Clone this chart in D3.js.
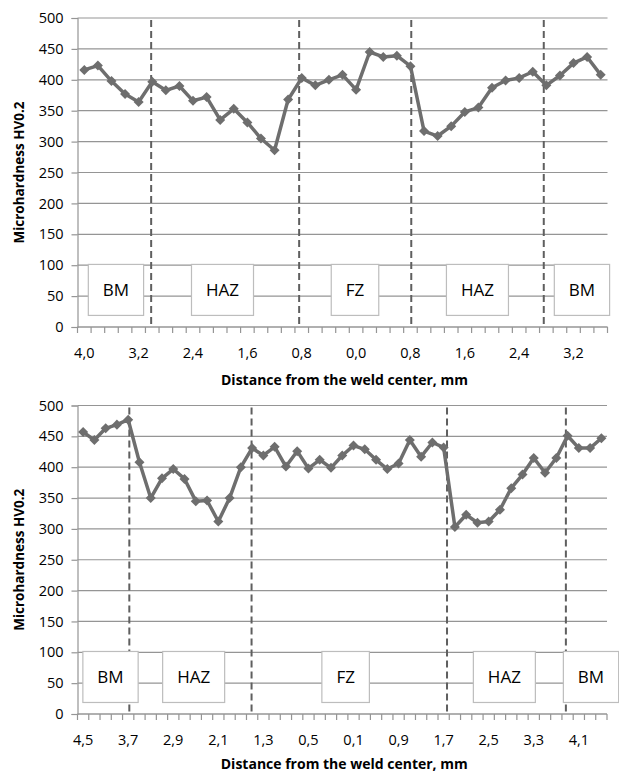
<!DOCTYPE html>
<html>
<head>
<meta charset="utf-8">
<style>
  body { margin: 0; background: #fff; }
  svg text { font-family: "Open Sans", Lato, sans-serif; fill: #000; }
</style>
<script src="https://d3js.org/d3.v7.min.js"></script>
</head>
<body>
<svg width="619" height="774"></svg>
<script>
// ---- data: top chart
var topValues = [416, 423, 398, 377, 364, 397, 383, 390, 366, 372, 335, 353, 331, 305, 286, 368,
  403, 391, 400, 408, 384, 445, 437, 439, 422, 317, 309, 325, 348, 355, 387, 399, 403, 413,
  391, 407, 427, 437, 408];
var topTicks = ["4,0", "3,2", "2,4", "1,6", "0,8", "0,0", "0,8", "1,6", "2,4", "3,2"];
var topBorders = [4.92, 15.81, 24.06, 33.81];           // zone borders, in category units
var topZones = ["BM", "HAZ", "FZ", "HAZ", "BM"];
var topZoneAt = [2.33, 10.17, 19.92, 28.93, 36.62];

// ---- data: bottom chart
var botValues = [457, 444, 463, 469, 477, 408, 350, 382, 397, 381, 345, 346, 312, 350, 400, 431,
  419, 433, 401, 426, 398, 412, 399, 419, 435, 429, 412, 397, 406, 444, 417, 440, 432, 303,
  323, 310, 312, 331, 366, 388, 415, 391, 415, 451, 431, 431, 447];
var botTicks = ["4,5", "3,7", "2,9", "2,1", "1,3", "0,5", "0,1", "0,9", "1,7", "2,5", "3,3", "4,1"];
var botBorders = [4.1, 14.95, 32.3, 42.85];
var botZones = ["BM", "HAZ", "FZ", "HAZ", "BM"];
var botZoneAt = [2.43, 9.81, 23.3, 37.39, 45.08];

var yTicks = [0, 50, 100, 150, 200, 250, 300, 350, 400, 450, 500];

var svg = d3.select("svg");

function drawChart(cfg) {
  var n = cfg.values.length;
  var x = d3.scaleLinear().domain([-0.5, n - 0.5]).range([cfg.left, cfg.right]);
  var y = d3.scaleLinear().domain([0, 500]).range([cfg.bottom, cfg.top]);
  var g = svg.append("g");

  // gridlines
  g.selectAll(".grid").data(yTicks).enter().append("line")
    .attr("x1", cfg.left).attr("x2", cfg.right)
    .attr("y1", function (d) { return y(d); }).attr("y2", function (d) { return y(d); })
    .attr("stroke", "#959595").attr("stroke-width", 1.2);

  // y axis
  var yAxis = g.append("g").attr("transform", "translate(" + cfg.left + ",0)")
    .call(d3.axisLeft(y).tickValues(yTicks).tickSize(6).tickPadding(8));
  yAxis.select(".domain").attr("stroke", "#959595").attr("stroke-width", 1.2);
  yAxis.selectAll(".tick line").attr("stroke", "#959595").attr("stroke-width", 1.2);
  yAxis.selectAll("text").attr("font-size", 14.5).attr("font-family", "'Open Sans', sans-serif").attr("fill", "#000");

  // x axis: ticks between categories, labels every 4th
  var xAxis = g.append("g").attr("transform", "translate(0," + cfg.bottom + ")");
  xAxis.append("line").attr("x1", cfg.left).attr("x2", cfg.right)
    .attr("stroke", "#959595").attr("stroke-width", 1.2);
  xAxis.selectAll(".xt").data(d3.range(n + 1)).enter().append("line")
    .attr("x1", function (d) { return x(d - 0.5); }).attr("x2", function (d) { return x(d - 0.5); })
    .attr("y1", 0).attr("y2", 6)
    .attr("stroke", "#959595").attr("stroke-width", 1.2);
  xAxis.selectAll(".xl").data(cfg.ticks).enter().append("text")
    .attr("x", function (d, i) { return x(i * 4); })
    .attr("y", 31)
    .attr("text-anchor", "middle")
    .attr("font-size", 14.5)
    .text(function (d) { return d; });

  // zone borders
  g.selectAll(".border").data(cfg.borders).enter().append("line")
    .attr("x1", function (d) { return x(d); }).attr("x2", function (d) { return x(d); })
    .attr("y1", cfg.top + 2).attr("y2", cfg.bottom)
    .attr("stroke", "#5f5f5f").attr("stroke-width", 2)
    .attr("stroke-dasharray", "7,4");

  // line + markers
  var line = d3.line()
    .x(function (d, i) { return x(i); })
    .y(function (d) { return y(d); });
  g.append("path").datum(cfg.values)
    .attr("d", line)
    .attr("fill", "none")
    .attr("stroke", "#6e6e6e")
    .attr("stroke-width", 3.5)
    .attr("stroke-linejoin", "round");
  g.selectAll(".pt").data(cfg.values).enter().append("path")
    .attr("d", d3.symbol().type(d3.symbolDiamond2).size(64))
    .attr("transform", function (d, i) { return "translate(" + x(i) + "," + y(d) + ")"; })
    .attr("fill", "#6e6e6e");

  // zone label boxes
  var zones = g.selectAll(".zone").data(cfg.zones).enter().append("g")
    .attr("transform", function (d, i) { return "translate(" + x(cfg.zoneAt[i]) + "," + y(60) + ")"; });
  zones.append("rect");
  zones.append("text")
    .attr("text-anchor", "middle")
    .attr("dy", "0.35em")
    .attr("font-size", 17)
    .text(function (d) { return d; });
  zones.each(function () {
    var w = d3.select(this).select("text").node().getComputedTextLength() + 29;
    d3.select(this).select("rect")
      .attr("x", -w / 2).attr("y", -25.5)
      .attr("width", w).attr("height", 51)
      .attr("fill", "#fff").attr("stroke", "#bdbdbd").attr("stroke-width", 1.2);
  });

  // titles
  svg.append("text")
    .attr("x", (cfg.left + cfg.right) / 2 + 2)
    .attr("y", cfg.bottom + cfg.titleGap)
    .attr("text-anchor", "middle")
    .attr("font-size", 14).attr("font-weight", "bold")
    .text("Distance from the weld center, mm");
  svg.append("text")
    .attr("transform", "translate(24," + (cfg.top + cfg.bottom) / 2 + ") rotate(-90)")
    .attr("text-anchor", "middle")
    .attr("font-size", 13.5).attr("font-weight", "bold")
    .text("Microhardness HV0.2");
}

drawChart({ values: topValues, ticks: topTicks, borders: topBorders, zones: topZones, zoneAt: topZoneAt,
  left: 77.5, right: 607.5, top: 18, bottom: 327, titleGap: 58 });
drawChart({ values: botValues, ticks: botTicks, borders: botBorders, zones: botZones, zoneAt: botZoneAt,
  left: 77.5, right: 607, top: 405.5, bottom: 714, titleGap: 55 });
</script>
</body>
</html>
